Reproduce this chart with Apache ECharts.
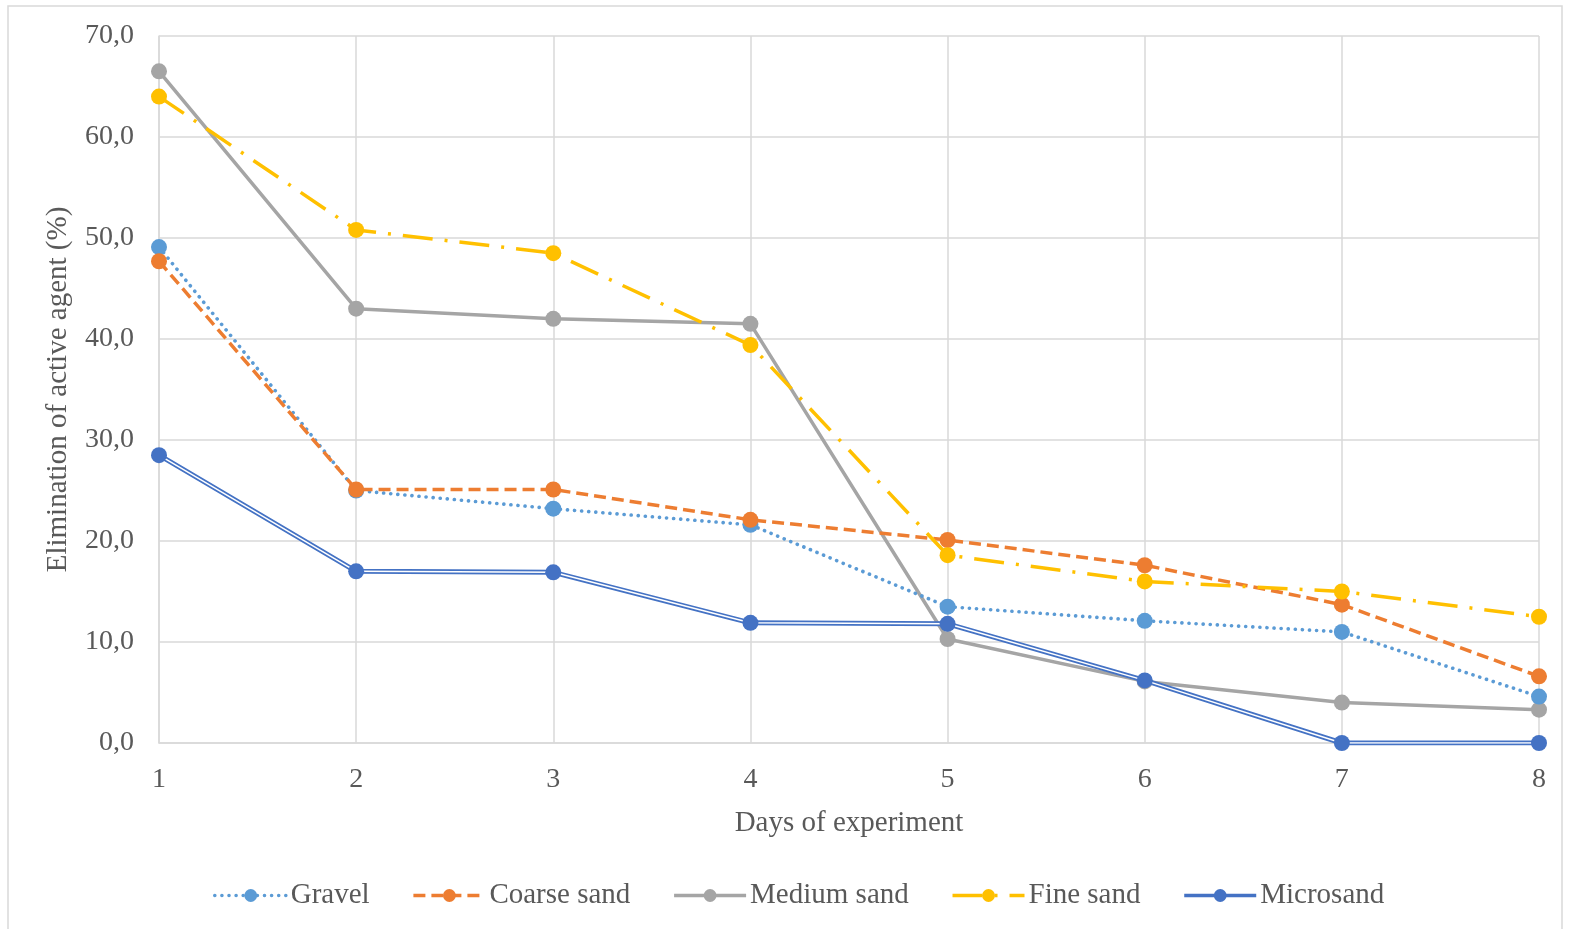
<!DOCTYPE html>
<html>
<head>
<meta charset="utf-8">
<script src="https://cdn.jsdelivr.net/npm/echarts@6/dist/echarts.min.js"></script>
<style>
  html, body { margin: 0; padding: 0; background: #fff; }
  #chart { width: 1570px; height: 929px; }
</style>
</head>
<body>
<div id="chart"></div>
<script>
// Days of the experiment
const days = ['1', '2', '3', '4', '5', '6', '7', '8'];

// Elimination of active agent (%) per filter medium
const gravel     = [49.1, 25.0, 23.2, 21.6, 13.5, 12.1, 11.0, 4.6];
const coarseSand = [47.7, 25.1, 25.1, 22.1, 20.1, 17.6, 13.7, 6.6];
const mediumSand = [66.5, 43.0, 42.0, 41.5, 10.3, 6.1, 4.0, 3.3];
const fineSand   = [64.0, 50.8, 48.5, 39.4, 18.6, 16.0, 15.0, 12.5];
const microsand  = [28.5, 17.0, 16.9, 11.9, 11.8, 6.2, 0.0, 0.0];

const FONT = '"Liberation Serif", "Times New Roman", serif';
const TXT = '#595959';
const GRIDC = '#d9d9d9';

const chart = echarts.init(document.getElementById('chart'));

function lineSeries(name, data, color, type, extra) {
  return Object.assign({
    name: name,
    type: 'line',
    data: data,
    symbol: 'circle',
    symbolSize: 16,
    showSymbol: true,
    itemStyle: { color: color },
    lineStyle: { color: color, width: 3.5, type: type, cap: 'butt' },
    emphasis: { disabled: true },
    animation: false
  }, extra || {});
}

const option = {
  backgroundColor: '#fff',
  animation: false,
  graphic: [{
    type: 'rect',
    shape: { x: 8, y: 6, width: 1554, height: 930 },
    style: { fill: 'none', stroke: '#d9d9d9', lineWidth: 1.5 },
    silent: true,
    z: -10
  }],
  grid: { left: 159, right: 31, top: 36, bottom: 186, containLabel: false },
  legend: {
    bottom: 14,
    left: 208,
    itemWidth: 72,
    itemHeight: 16,
    itemGap: 42,
    lineStyle: { width: 3.5 },
    textStyle: { fontFamily: FONT, fontSize: 29, color: TXT, padding: [0, 0, 0, -1] },
    data: ['Gravel', 'Coarse sand', 'Medium sand', 'Fine sand', 'Microsand']
  },
  xAxis: {
    type: 'category',
    data: days,
    boundaryGap: false,
    name: 'Days of experiment',
    nameLocation: 'middle',
    nameGap: 66,
    nameTextStyle: { fontFamily: FONT, fontSize: 29, color: TXT },
    axisLine: { lineStyle: { color: GRIDC, width: 1.5 } },
    axisTick: { show: false },
    axisLabel: { fontFamily: FONT, fontSize: 28, color: TXT, margin: 23 },
    splitLine: { show: true, lineStyle: { color: GRIDC, width: 1.5 } }
  },
  yAxis: {
    type: 'value',
    min: 0,
    max: 70,
    interval: 10,
    name: 'Elimination of active agent (%)',
    nameLocation: 'middle',
    nameGap: 86,
    nameRotate: 90,
    nameTextStyle: { fontFamily: FONT, fontSize: 29, color: TXT },
    axisLine: { show: true, lineStyle: { color: GRIDC, width: 1.5 } },
    axisTick: { show: false },
    axisLabel: {
      fontFamily: FONT, fontSize: 28, color: TXT, margin: 25,
      formatter: v => v.toFixed(1).replace('.', ',')
    },
    splitLine: { lineStyle: { color: GRIDC, width: 1.5 } }
  },
  series: [
    lineSeries('Gravel', gravel, '#5B9BD5', [0.1, 7], { lineStyle: { color: '#5B9BD5', width: 3.6, type: [0.1, 7], cap: 'round' }, z: 3 }),
    lineSeries('Coarse sand', coarseSand, '#ED7D31', [12, 6], { z: 4 }),
    lineSeries('Medium sand', mediumSand, '#A5A5A5', 'solid', { z: 2 }),
    lineSeries('Fine sand', fineSand, '#FFC000', [30, 12, 3, 12], { z: 5 }),
    // Microsand: double rule drawn as a wide blue stroke with a thin white core
    lineSeries('Microsand', microsand, '#4472C4', 'solid', { lineStyle: { color: '#4472C4', width: 5 }, showSymbol: false, z: 6 }),
    {
      name: 'Microsand core',
      type: 'line',
      data: microsand,
      showSymbol: false,
      symbol: 'none',
      lineStyle: { color: '#ffffff', width: 1.5 },
      emphasis: { disabled: true },
      z: 7
    },
    {
      name: 'Microsand markers',
      type: 'line',
      data: microsand,
      symbol: 'circle',
      symbolSize: 16,
      itemStyle: { color: '#4472C4' },
      lineStyle: { width: 0, opacity: 0 },
      emphasis: { disabled: true },
      z: 8
    }
  ]
};

chart.setOption(option);
</script>
</body>
</html>
